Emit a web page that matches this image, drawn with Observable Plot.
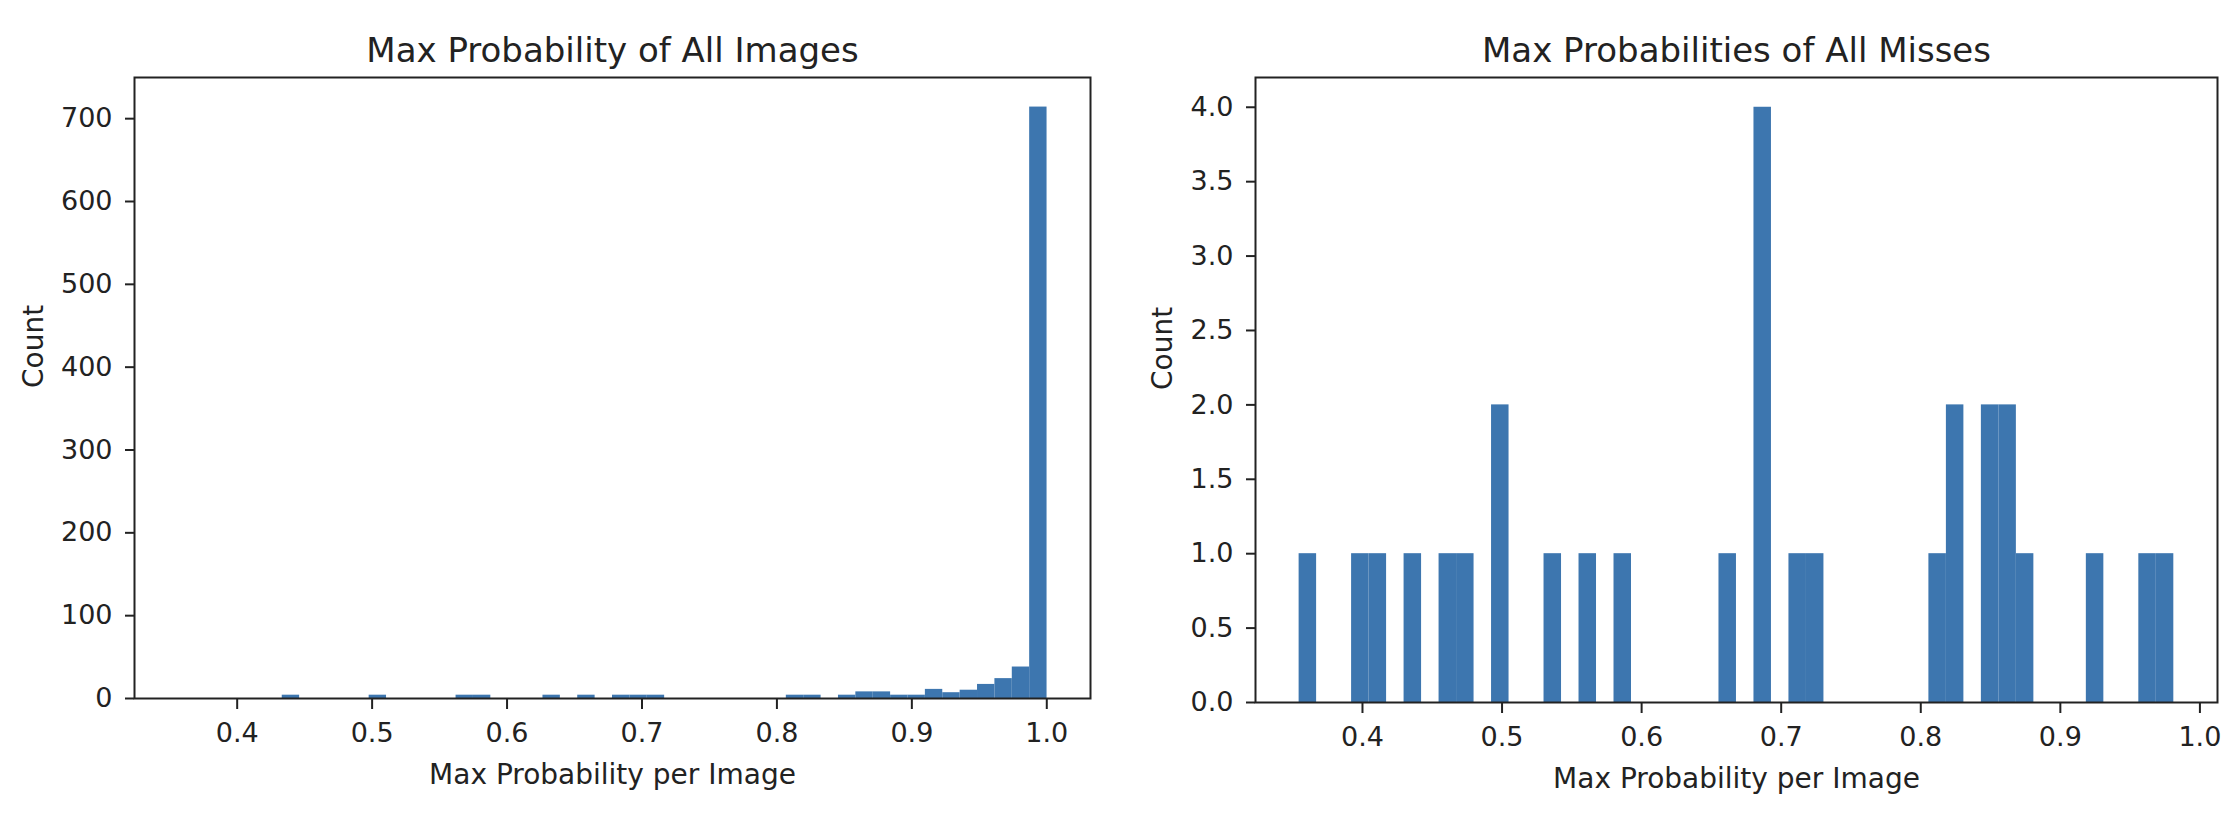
<!DOCTYPE html>
<html><head><meta charset="utf-8">
<script src="https://cdn.jsdelivr.net/npm/d3@7"></script>
<script src="https://cdn.jsdelivr.net/npm/@observablehq/plot@0.6"></script>
<style>
html,body{margin:0;padding:0;background:#fff;}
#wrap{display:flex;width:2238px;height:822px;}
#wrap svg{display:block;}
</style></head><body><div id="wrap"></div>
<script>
// ---- data ----
// Histogram of max probability for all images (50 equal bins between allMin and allMax)
const allMin = 0.3561, allMax = 1.0002;
const allCounts = [0,0,0,0,0,0,4,0,0,0, 0,4,0,0,0,0,4,4,0,0, 0,4,0,4,0,4,4,4,0,0, 0,0,0,0,0,4,4,0,4,8, 8,4,4,11,7,10,17,24,38,714];
// Histogram of max probability for the misses (50 equal bins between missMin and missMax)
const missMin = 0.3546, missMax = 0.9813;
const missCounts = [1,0,0,1,1,0,1,0,1,1, 0,2,0,0,1,0,1,0,1,0, 0,0,0,0,1,0,4,0,1,1, 0,0,0,0,0,0,1,2,0,2, 2,1,0,0,0,1,0,0,1,1];
const xTicks = [0.4,0.5,0.6,0.7,0.8,0.9,1.0];
const allYTicks = [0,100,200,300,400,500,600,700];
const missYTicks = [0,0.5,1,1.5,2,2.5,3,3.5,4];
const titles = ["Max Probability of All Images","Max Probabilities of All Misses"];
const xLabel = "Max Probability per Image";
const yLabel = "Count";

const barColor = "#3d76af";
const ink = "#222";
const font = "DejaVu Sans";

function bins(lo, hi, counts) {
  const w = (hi - lo) / counts.length;
  return counts.map((c, i) => ({x1: lo + i * w, x2: lo + (i + 1) * w, count: c})).filter(d => d.count > 0);
}

function panel(cfg) {
  return Plot.plot({
    width: cfg.width, height: 822,
    marginLeft: cfg.ml, marginRight: cfg.mr, marginTop: cfg.mt, marginBottom: cfg.mb,
    style: {fontFamily: font, color: ink, background: "#fff"},
    x: {domain: cfg.xDomain, label: null},
    y: {domain: cfg.yDomain, label: null},
    marks: [
      Plot.rectY(bins(cfg.lo, cfg.hi, cfg.counts), {x1: "x1", x2: "x2", y: "count", fill: barColor}),
      Plot.frame({stroke: ink, strokeWidth: 2}),
      Plot.axisX({ticks: xTicks, tickFormat: d3.format(".1f"), tickSize: 11, tickPadding: 13, fontSize: 27, strokeWidth: 2, label: null}),
      Plot.axisY({ticks: cfg.yTicks, tickFormat: cfg.yFormat, tickSize: 9, tickPadding: 13, fontSize: 27, strokeWidth: 2, label: null}),
      Plot.text([cfg.title], {text: d => d, frameAnchor: "top", lineAnchor: "bottom", dy: -16, fontSize: 34, fill: ink}),
      Plot.text([xLabel], {text: d => d, frameAnchor: "bottom", lineAnchor: "bottom", dy: 85, fontSize: 28, fill: ink}),
      Plot.text([yLabel], {text: d => d, frameAnchor: "left", lineAnchor: "bottom", rotate: -90, dx: cfg.ylDx, fontSize: 28, fill: ink})
    ]
  });
}

const wrap = document.getElementById("wrap");
wrap.appendChild(panel({
  width: 1119, ml: 134, mr: 29, mt: 77, mb: 124,
  xDomain: [0.3239, 1.0324], yDomain: [0, 749.7],
  lo: allMin, hi: allMax, counts: allCounts,
  yTicks: allYTicks, yFormat: d3.format("d"),
  title: titles[0], ylDx: -91.5
}));
wrap.appendChild(panel({
  width: 1119, ml: 136, mr: 21, mt: 77, mb: 120,
  xDomain: [0.32335, 1.0126], yDomain: [0, 4.2],
  lo: missMin, hi: missMax, counts: missCounts,
  yTicks: missYTicks, yFormat: d3.format(".1f"),
  title: titles[1], ylDx: -83.5
}));
</script>
</body></html>
